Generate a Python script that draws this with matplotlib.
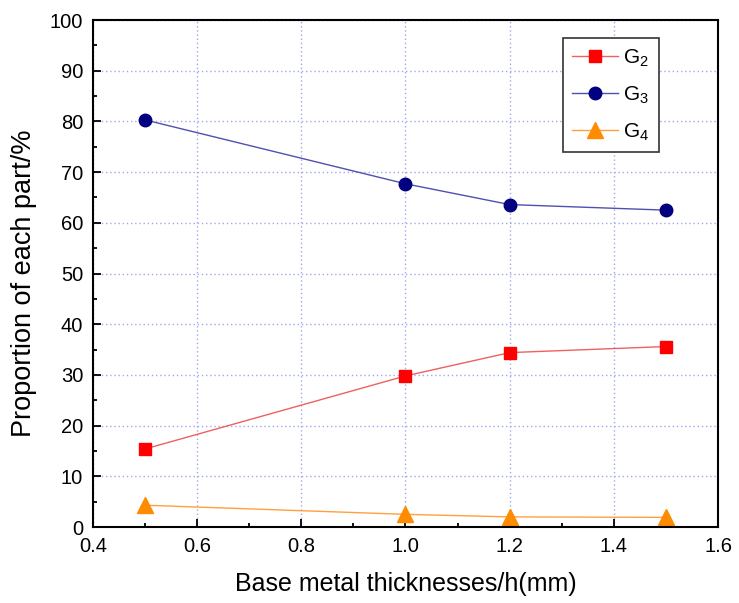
import matplotlib.pyplot as plt
from matplotlib.ticker import MultipleLocator

plt.rcParams["font.family"] = ["Liberation Sans", "DejaVu Sans"]
plt.rcParams["mathtext.fontset"] = "custom"
plt.rcParams["mathtext.rm"] = "Liberation Sans"
plt.rcParams["mathtext.it"] = "Liberation Sans"

thickness = [0.5, 1.0, 1.2, 1.5]
g2 = [15.4, 29.8, 34.4, 35.6]
g3 = [80.3, 67.7, 63.6, 62.5]
g4 = [4.3, 2.5, 2.0, 1.9]

fig = plt.figure(figsize=(7.39, 6.03), dpi=100)
ax = fig.add_axes([0.1258, 0.126, 0.8458, 0.8408])

ax.plot(thickness, g2, color="#f06060", lw=1, marker="s", ms=8,
        mfc="#ff0000", mec="#ff0000", label="G$_2$")
ax.plot(thickness, g3, color="#5050b0", lw=1, marker="o", ms=9,
        mfc="#000080", mec="#000080", label="G$_3$")
ax.plot(thickness, g4, color="#ffa040", lw=1, marker="^", ms=11,
        mfc="#ff8c00", mec="#ff8c00", label="G$_4$")

ax.set_xlim(0.4, 1.6)
ax.set_ylim(0, 100)
ax.xaxis.set_major_locator(MultipleLocator(0.2))
ax.xaxis.set_minor_locator(MultipleLocator(0.1))
ax.yaxis.set_major_locator(MultipleLocator(10))
ax.yaxis.set_minor_locator(MultipleLocator(5))
ax.tick_params(which="both", direction="in", labelsize=14.5, width=1.3, pad=7)
ax.tick_params(which="major", length=6)
ax.tick_params(which="minor", length=3)
ax.set_xticks([0.4, 0.6, 0.8, 1.0, 1.2, 1.4, 1.6])
ax.set_xticklabels(["0.4", "0.6", "0.8", "1.0", "1.2", "1.4", "1.6"])
for s in ax.spines.values():
    s.set_linewidth(1.5)

ax.grid(True, which="major", color="#a0a8ea", linestyle=(0, (1, 2)), lw=1)
ax.set_axisbelow(True)

ax.set_xlabel("Base metal thicknesses/h(mm)", fontsize=18, labelpad=12)
ax.set_ylabel("Proportion of each part/%", fontsize=19.5)
ax.yaxis.set_label_coords(-0.09, 0.48)

leg = ax.legend(loc="upper right", bbox_to_anchor=(0.9056, 0.9645),
                borderaxespad=0, fancybox=False, edgecolor="#333333",
                fontsize=15, handlelength=2.2, handletextpad=0.25,
                framealpha=1, labelspacing=0.75, borderpad=0.45)
leg.get_frame().set_linewidth(1.2)

fig.savefig("out.png", dpi=100)
